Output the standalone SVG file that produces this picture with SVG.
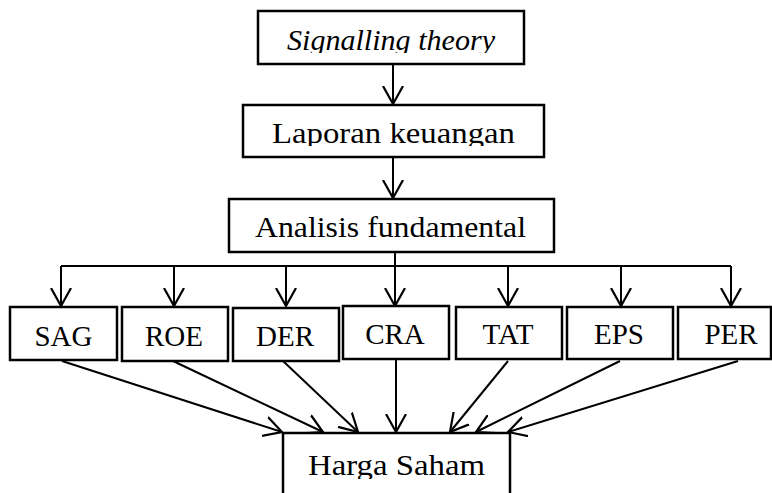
<svg xmlns="http://www.w3.org/2000/svg" width="772" height="493" viewBox="0 0 772 493">
<defs>
<marker id="arr" markerUnits="userSpaceOnUse" markerWidth="22" markerHeight="22" refX="18" refY="11" orient="auto" viewBox="0 0 22 22">
<path d="M0,1 L18,11 L0,21" fill="none" stroke="#000" stroke-width="2.2"/>
</marker>
<clipPath id="c1"><rect x="258" y="11" width="266" height="42"/></clipPath>
<clipPath id="c2"><rect x="243" y="105" width="301" height="41"/></clipPath>
<clipPath id="c3"><rect x="283" y="433" width="227" height="46"/></clipPath>
</defs>
<style>
rect{fill:#fff;stroke:#000;stroke-width:2.5}
.t{font-family:"Liberation Serif","Times New Roman",serif;font-size:29px;fill:#000;text-anchor:middle}
.s{font-family:"Liberation Serif","Times New Roman",serif;font-size:29px;fill:#000;text-anchor:middle}
#connectors line{stroke:#000;stroke-width:2;fill:none}
</style>
<g id="connectors">
<line x1="393" y1="64" x2="393" y2="104" marker-end="url(#arr)"/>
<line x1="393" y1="157" x2="393" y2="198" marker-end="url(#arr)"/>
<line x1="395" y1="252" x2="395" y2="306" marker-end="url(#arr)"/>
<line x1="61" y1="266" x2="731" y2="266"/>
<line x1="61" y1="266" x2="61" y2="306" marker-end="url(#arr)"/>
<line x1="174" y1="266" x2="174" y2="306" marker-end="url(#arr)"/>
<line x1="286" y1="266" x2="286" y2="306" marker-end="url(#arr)"/>
<line x1="508" y1="266" x2="508" y2="306" marker-end="url(#arr)"/>
<line x1="621" y1="266" x2="621" y2="306" marker-end="url(#arr)"/>
<line x1="731" y1="266" x2="731" y2="306" marker-end="url(#arr)"/>
<line x1="62" y1="361" x2="282" y2="432" marker-end="url(#arr)"/>
<line x1="173" y1="361" x2="323" y2="432" marker-end="url(#arr)"/>
<line x1="283" y1="361" x2="358" y2="432" marker-end="url(#arr)"/>
<line x1="396" y1="359" x2="396" y2="432" marker-end="url(#arr)"/>
<line x1="508" y1="361" x2="450" y2="432" marker-end="url(#arr)"/>
<line x1="620" y1="361" x2="476" y2="432" marker-end="url(#arr)"/>
<line x1="738" y1="361" x2="508" y2="432" marker-end="url(#arr)"/>
</g>
<g id="signalling">
<rect x="258" y="11" width="266" height="53"/>
<text class="t" x="391" y="50" font-style="italic" textLength="208" lengthAdjust="spacingAndGlyphs" clip-path="url(#c1)">Signalling theory</text>
</g>
<g id="laporan">
<rect x="243" y="105" width="301" height="52"/>
<text class="t" x="393.5" y="143" textLength="243" lengthAdjust="spacingAndGlyphs" clip-path="url(#c2)">Laporan keuangan</text>
</g>
<g id="analisis">
<rect x="229" y="199" width="325" height="53"/>
<text class="t" x="390.5" y="237" textLength="271" lengthAdjust="spacingAndGlyphs">Analisis fundamental</text>
</g>
<g id="sag"><rect x="10" y="307" width="107" height="53"/><text class="s" x="63.5" y="346">SAG</text></g>
<g id="roe"><rect x="122" y="307" width="106" height="54"/><text class="s" x="174" y="346">ROE</text></g>
<g id="der"><rect x="233" y="308" width="106" height="53"/><text class="s" x="285" y="346">DER</text></g>
<g id="cra"><rect x="343" y="306" width="106" height="53"/><text class="s" x="395" y="344">CRA</text></g>
<g id="tat"><rect x="456" y="307" width="106" height="52"/><text class="s" x="508" y="344">TAT</text></g>
<g id="eps"><rect x="567" y="307" width="106" height="52"/><text class="s" x="619" y="344">EPS</text></g>
<g id="per"><rect x="678" y="307" width="93" height="52"/><text class="s" x="731" y="344">PER</text></g>
<g id="harga">
<rect x="283" y="433" width="227" height="70"/>
<text class="t" x="396.5" y="475" textLength="177" lengthAdjust="spacingAndGlyphs" clip-path="url(#c3)">Harga Saham</text>
</g>
</svg>
